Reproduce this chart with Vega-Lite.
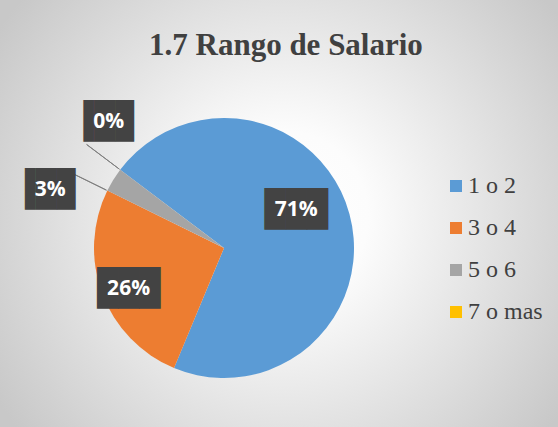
{
  "$schema": "https://vega.github.io/schema/vega-lite/v6.json",
  "width": 260,
  "height": 260,
  "autosize": {"type": "none"},
  "padding": {"left": 94, "top": 118, "right": 204, "bottom": 49},
  "background": "#d4d4d4",
  "title": {
    "text": "1.7 Rango de Salario",
    "font": "Liberation Serif",
    "fontSize": 31,
    "fontWeight": "bold",
    "color": "#404040",
    "anchor": "start",
    "frame": "group",
    "baseline": "alphabetic",
    "dx": 55,
    "offset": -288
  },
  "data": {
    "values": [
      {"cat": "1 o 2", "value": 0.71},
      {"cat": "3 o 4", "value": 0.26},
      {"cat": "5 o 6", "value": 0.03},
      {"cat": "7 o mas", "value": 0.0}
    ]
  },
  "layer": [
    {
      "transform": [{"aggregate": [{"op": "count", "as": "n"}]}],
      "mark": {
        "type": "arc",
        "outerRadius": 450,
        "fill": {
          "gradient": "radial",
          "x1": 0.5656, "y1": 0.4644, "r1": 0,
          "x2": 0.5656, "y2": 0.4644, "r2": 0.3778,
          "stops": [
            {"offset": 0, "color": "#ffffff"},
            {"offset": 0.25, "color": "#fcfcfc"},
            {"offset": 1, "color": "#c8c8c8"}
          ]
        }
      },
      "encoding": {"theta": {"value": 0}, "theta2": {"value": 6.2832}}
    },
    {
      "mark": {"type": "arc", "outerRadius": 130},
      "encoding": {
        "theta": {"field": "value", "type": "quantitative", "stack": true, "scale": {"domain": [0, 1], "range": [5.3581, 11.6413]}},
        "order": {"field": "cat", "sort": "ascending"},
        "color": {
          "field": "cat",
          "type": "nominal",
          "scale": {"domain": ["1 o 2", "3 o 4", "5 o 6", "7 o mas"], "range": ["#5B9BD5", "#ED7D31", "#A5A5A5", "#FFC000"]},
          "legend": {
            "title": null,
            "orient": "none",
            "legendX": 350,
            "legendY": 56,
            "symbolType": "square",
            "symbolSize": 144,
            "symbolStrokeWidth": 0,
            "labelFont": "Liberation Serif",
            "labelFontSize": 24,
            "labelColor": "#404040",
            "rowPadding": 18,
            "labelOffset": 0
          }
        }
      }
    },
    {
      "transform": [
        {"stack": "value", "groupby": [], "sort": [{"field": "cat", "order": "ascending"}], "as": ["v0", "v1"]},
        {"filter": "datum.value < 0.1"}
      ],
      "mark": {"type": "arc", "innerRadius": 131, "outerRadius": 172, "filled": false, "stroke": "#7f7f7f", "strokeWidth": 1},
      "encoding": {
        "theta": {"field": "v0", "type": "quantitative", "stack": null},
        "theta2": {"field": "v0"}
      }
    },
    {
      "mark": {
        "type": "text",
        "font": "DejaVu Sans Mono",
        "fontSize": 35,
        "color": "#434343",
        "align": "center",
        "baseline": "middle",
        "dx": {"expr": "datum.cat === '1 o 2' ? -5 : datum.cat === '3 o 4' ? 1 : datum.cat === '5 o 6' ? -22 : 18"},
        "dy": {"expr": "datum.cat === '1 o 2' ? -17 : datum.cat === '3 o 4' ? 5 : datum.cat === '5 o 6' ? 38 : -22"}
      },
      "encoding": {
        "theta": {"field": "value", "type": "quantitative", "stack": true},
        "order": {"field": "cat", "sort": "ascending"},
        "radius": {"field": "value", "type": "quantitative", "scale": {"type": "linear", "domain": [0, 0.03, 0.26, 0.71], "range": [172, 183, 103, 80], "zero": false, "nice": false}},
        "text": {"condition": {"test": "datum.value < 0.1", "value": "▐█▉"}, "value": "███"}
      }
    },
    {
      "mark": {
        "type": "text",
        "font": "Open Sans",
        "fontWeight": "bold",
        "fontSize": 21,
        "color": "#ffffff",
        "align": "center",
        "baseline": "middle",
        "dx": {"expr": "datum.cat === '1 o 2' ? -5 : datum.cat === '3 o 4' ? 1 : datum.cat === '5 o 6' ? -18 : 22"},
        "dy": {"expr": "datum.cat === '1 o 2' ? -17 : datum.cat === '3 o 4' ? 5 : datum.cat === '5 o 6' ? 38 : -22"}
      },
      "encoding": {
        "theta": {"field": "value", "type": "quantitative", "stack": true},
        "order": {"field": "cat", "sort": "ascending"},
        "radius": {"field": "value", "type": "quantitative", "scale": {"type": "linear", "domain": [0, 0.03, 0.26, 0.71], "range": [172, 183, 103, 80], "zero": false, "nice": false}},
        "text": {"field": "value", "type": "quantitative", "format": ".0%"}
      }
    }
  ],
  "config": {
    "view": {"stroke": null}
  }
}
